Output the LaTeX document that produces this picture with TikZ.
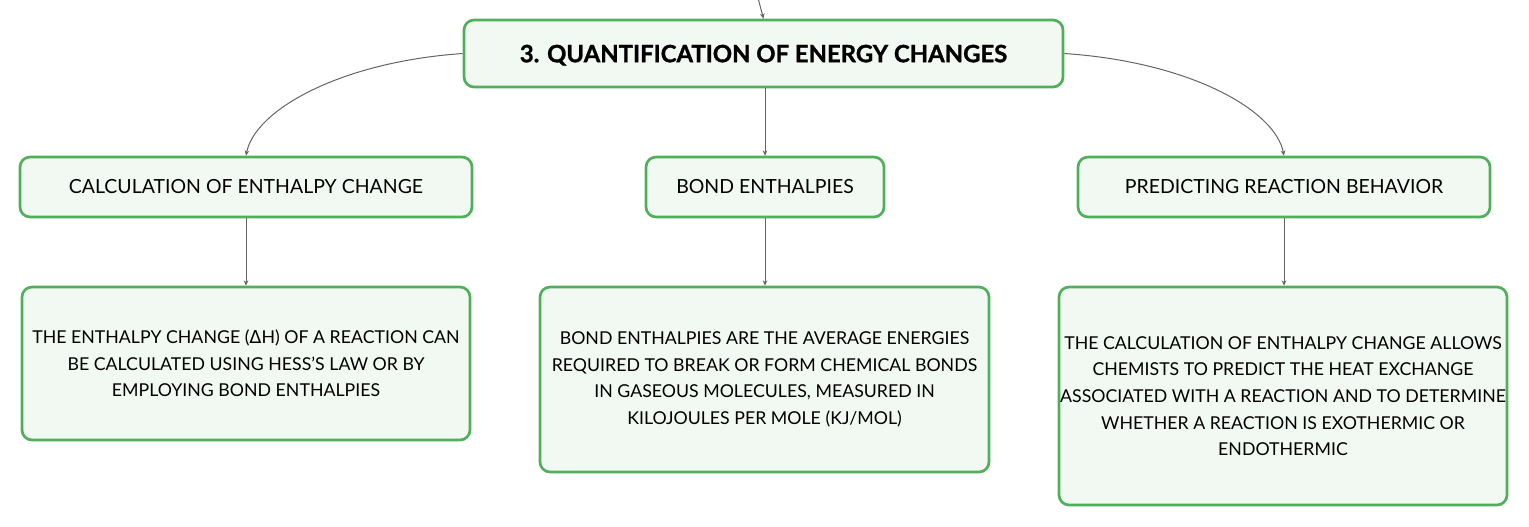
\documentclass[tikz,border=0pt]{standalone}
\usepackage{fontspec}
\setmainfont{Lato}
\newfontfamily\titlefont{Lato}[BoldFeatures={FakeBold=1.2}]
\newfontfamily\symfont{DejaVu Sans}
\usetikzlibrary{arrows.meta}
\definecolor{boxgreen}{RGB}{80,175,90}
\definecolor{boxfill}{RGB}{242,249,242}
\definecolor{linkgray}{RGB}{100,100,100}
\tikzset{
  mapbox/.style={draw=boxgreen, fill=boxfill, line width=2pt, rounded corners=7.5pt,
    inner sep=0pt, align=center, font=\fontsize{13.3}{20}\selectfont},
  subbox/.style={mapbox, font=\fontsize{14.6}{20}\selectfont},
  titlebox/.style={mapbox, font=\titlefont\fontsize{17.9}{22}\selectfont\bfseries},
  link/.style={draw=linkgray, line width=0.75pt, -{Stealth[length=4pt,width=3.5pt]}}
}
\begin{document}
\begin{tikzpicture}[x=0.75pt,y=-0.75pt]
\useasboundingbox (0,0) rectangle (1529,526);
\node[titlebox, minimum width=449.25pt, minimum height=50.25pt, text depth=0pt] (top) at (763.5,53.5) {3. QUANTIFICATION OF ENERGY CHANGES};
\node[subbox, minimum width=339pt, minimum height=45pt] (c1) at (246,187) {CALCULATION OF ENTHALPY CHANGE};
\node[subbox, minimum width=178.5pt, minimum height=45pt] (c2) at (765,187) {BOND ENTHALPIES};
\node[subbox, minimum width=309pt, minimum height=45pt] (c3) at (1284,187) {PREDICTING REACTION BEHAVIOR};
\node[mapbox, minimum width=336pt, minimum height=114.75pt] (d1) at (246,363.5) {THE ENTHALPY CHANGE ({\symfont Δ}H) OF A REACTION CAN\\BE CALCULATED USING HESS'S LAW OR BY\\EMPLOYING BOND ENTHALPIES};
\node[mapbox, minimum width=336.75pt, minimum height=138.75pt] (d2) at (764.5,379.5) {BOND ENTHALPIES ARE THE AVERAGE ENERGIES\\REQUIRED TO BREAK OR FORM CHEMICAL BONDS\\IN GASEOUS MOLECULES, MEASURED IN\\KILOJOULES PER MOLE (KJ/MOL)};
\node[mapbox, minimum width=336pt, minimum height=163.5pt] (d3) at (1283,396) {THE CALCULATION OF ENTHALPY CHANGE ALLOWS\\CHEMISTS TO PREDICT THE HEAT EXCHANGE\\ASSOCIATED WITH A REACTION AND TO DETERMINE\\WHETHER A REACTION IS EXOTHERMIC OR\\ENDOTHERMIC};
\coordinate (in) at (758,-2);
\draw[link] (in) -- (top.north);
\draw[link] (top.west) .. controls (340,62) and (255,110) .. (c1.north);
\draw[link] (top.east) .. controls (1190,62) and (1275,110) .. (c3.north);
\draw[link] (top.south -| c2.north) -- (c2.north);
\draw[link] (c1.south) -- (c1.south |- d1.north);
\draw[link] (c2.south) -- (c2.south |- d2.north);
\draw[link] (c3.south) -- (c3.south |- d3.north);
\end{tikzpicture}
\end{document}
